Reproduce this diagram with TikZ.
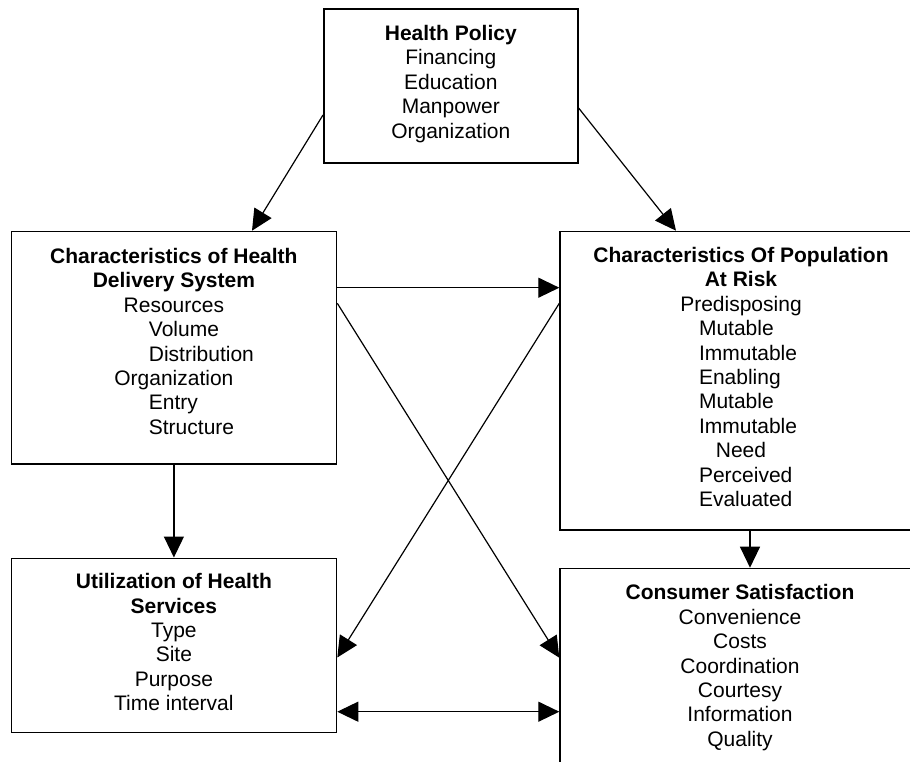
\documentclass[tikz,border=0pt]{standalone}
\usepackage{fontspec}
\setmainfont{Liberation Sans}
\usetikzlibrary{arrows.meta}
% a line set at a fixed offset from the centre of its block
\newcommand\shiftln[2]{\makebox[0pt][l]{\hspace*{#1}#2}}
\begin{document}
\begin{tikzpicture}[x=1pt,y=-1pt,
  box/.style={draw, line width=1.6pt, anchor=north west, inner sep=0pt},
  txt/.style={anchor=north, align=center, inner sep=0pt,
    font=\fontsize{21}{24.4}\selectfont},
  tip/.style={Triangle[length=21pt,width=20pt]},
  link/.style={line width=1.2pt, -{Triangle[length=21pt,width=20pt]}},
  dlink/.style={line width=1.2pt,
    {Triangle[length=21pt,width=20pt]}-{Triangle[length=21pt,width=20pt]}},
]
\path[use as bounding box] (0,0) rectangle (910,761);
\clip (0,0) rectangle (910,761);

% boxes
\node[box, minimum width=254pt, minimum height=153.7pt] (hp) at (323,8.3) {};
\node[box, minimum width=325.2pt, minimum height=232.3pt] (chds) at (10.5,230.7) {};
\node[box, minimum width=365.7pt, minimum height=298.3pt] (cpar) at (559.3,230.7) {};
\node[box, minimum width=325.2pt, minimum height=174.2pt] (uhs) at (10.5,557.5) {};
\node[box, minimum width=365.7pt, minimum height=200pt] (cs) at (559.3,567.7) {};

% box texts
\node[txt] (hpT) at ([yshift=-16.7pt]hp.north)
  {\textbf{Health Policy}\\Financing\\Education\\Manpower\\Organization};
\node[txt] (chdsT) at ([yshift=-17.3pt]chds.north)
  {\textbf{Characteristics of Health}\\\textbf{Delivery System}\\Resources\\
   \shiftln{-25pt}{Volume}\\\shiftln{-25pt}{Distribution}\\Organization\\
   \shiftln{-25pt}{Entry}\\\shiftln{-25pt}{Structure}};
\node[txt] (cparT) at ([xshift=181.7pt,yshift=-16.3pt]cpar.north west)
  {\textbf{Characteristics Of Population}\\\textbf{At Risk}\\Predisposing\\
   \shiftln{-42pt}{Mutable}\\\shiftln{-42pt}{Immutable}\\\shiftln{-42pt}{Enabling}\\
   \shiftln{-42pt}{Mutable}\\\shiftln{-42pt}{Immutable}\\Need\\
   \shiftln{-42pt}{Perceived}\\\shiftln{-42pt}{Evaluated}};
\node[txt] (uhsT) at ([yshift=-15.8pt]uhs.north)
  {\textbf{Utilization of Health}\\\textbf{Services}\\Type\\Site\\Purpose\\Time interval};
\node[txt] (csT) at ([xshift=180.7pt,yshift=-16.8pt]cs.north west)
  {\textbf{Consumer Satisfaction}\\Convenience\\Costs\\Coordination\\Courtesy\\Information\\Quality};

% connectors
\draw[link] ([yshift=-106.7pt]hp.north west) -- ([xshift=241.5pt]chds.north west);
\draw[link] ([yshift=-99.7pt]hp.north east) -- ([xshift=116.7pt]cpar.north west);
\draw[link] ([yshift=-57pt]chds.north east) -- ([yshift=-57pt]cpar.north west);
\draw[link] (chds.south) -- (uhs.north);
\draw[link] ([xshift=190.7pt]cpar.south west) -- ([xshift=190.7pt]cs.north west);
\draw[link] ([yshift=-72.6pt]chds.north east) -- ([yshift=-90pt]cs.north west);
\draw[link] ([yshift=-72.6pt]cpar.north west) -- ([yshift=-100pt]uhs.north east);
\draw[dlink] ([yshift=-154.2pt]uhs.north east) -- ([yshift=-144pt]cs.north west);
\end{tikzpicture}
\end{document}
